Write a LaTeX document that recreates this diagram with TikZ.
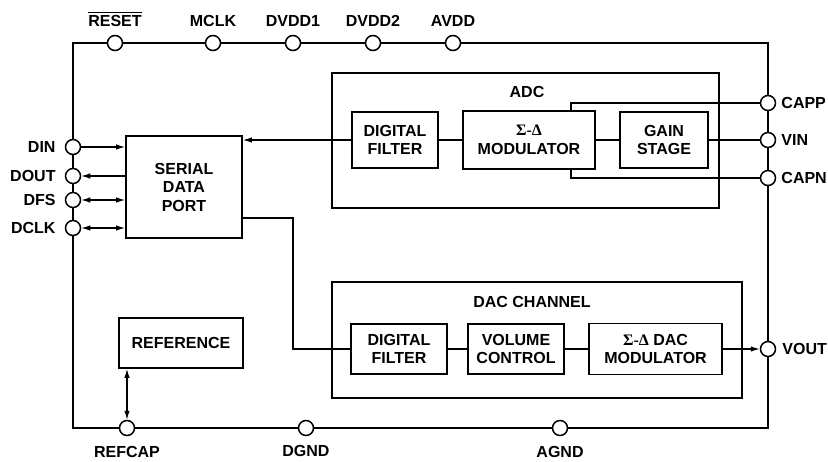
\documentclass[tikz,border=0pt]{standalone}
\usepackage{fontspec}
\setmainfont{Liberation Sans}
\newfontfamily\grkfont{Liberation Serif}
\usetikzlibrary{arrows.meta, positioning, calc}
\newcommand{\barlbl}[1]{\setbox0=\hbox{#1}\rlap{\raisebox{\dimexpr\ht0+1.8pt\relax}{\rule{\wd0}{1.1pt}}}\box0}

\begin{document}
\begin{tikzpicture}[
    x=1pt, y=-1pt,
    font=\fontsize{16}{18.5}\selectfont\bfseries,
    blk/.style={draw, line width=1.8pt, align=center, inner sep=0pt},
    grp/.style={draw, line width=1.2pt, inner sep=0pt},
    pin/.style={circle, draw, fill=white, line width=1.5pt,
                minimum size=15pt, inner sep=0pt},
    lbl/.style={inner sep=2pt},
    wire/.style={line width=1.2pt},
    ar/.style={wire, -{Latex[length=9pt,width=5.5pt]}},
    biar/.style={wire, {Latex[length=9pt,width=5.5pt]}-{Latex[length=9pt,width=5.5pt]}},
]
\useasboundingbox (0,0) rectangle (828,461);

% chip outline
\node[draw, line width=1.5pt, minimum width=695pt, minimum height=385pt,
      inner sep=0pt] (chip) at (420.5,235.5) {};

% ADC
\node[grp, minimum width=387pt, minimum height=135pt] (adc) at (525.5,140.5) {};
\node (adclbl) at (527,92) {ADC};
\node[blk, minimum width=86pt, minimum height=56pt] (adcfilt) at (395,140) {DIGITAL\\FILTER};
\node[blk, minimum width=132pt, minimum height=58pt] (adcmod) at (529,140) {{\grkfont Σ-Δ}\\MODULATOR};
\node[blk, minimum width=88pt, minimum height=56pt] (gain) at (664,140) {GAIN\\STAGE};

% DAC
\node[grp, minimum width=410pt, minimum height=116pt] (dac) at (537,340) {};
\node (daclbl) at (532,302) {DAC CHANNEL};
\node[blk, minimum width=96pt, minimum height=50pt] (dacfilt) at (399,349) {DIGITAL\\FILTER};
\node[blk, minimum width=96pt, minimum height=50pt] (vol) at (516,349) {VOLUME\\CONTROL};
\node[blk, minimum width=133pt, minimum height=51pt] (dacmod) at (655.5,349) {{\grkfont Σ-Δ} DAC\\MODULATOR};

\node[blk, minimum width=116pt, minimum height=102pt] (sdp) at (184,187) {SERIAL\\DATA\\PORT};
\node[blk, minimum width=124pt, minimum height=50pt] (ref) at (181,343) {REFERENCE};

% pins, top
\node[pin] (reset) at (115,43) {};
\node[pin] (mclk) at (213,43) {};
\node[pin] (dvdda) at (293,43) {};
\node[pin] (dvddb) at (373,43) {};
\node[pin] (avdd) at (453,43) {};
\node[lbl, above=6pt of reset] {\barlbl{RESET}};
\node[lbl, above=6pt of mclk] {MCLK};
\node[lbl, above=6pt of dvdda] {DVDD1};
\node[lbl, above=6pt of dvddb] {DVDD2};
\node[lbl, above=6pt of avdd] {AVDD};

% pins, left
\node[pin] (din) at (73,147) {};
\node[pin] (dout) at (73,176) {};
\node[pin] (dfs) at (73,200) {};
\node[pin] (dclk) at (73,228) {};
\node[lbl, left=7pt of din] {DIN};
\node[lbl, left=7pt of dout] {DOUT};
\node[lbl, left=7pt of dfs] {DFS};
\node[lbl, left=7pt of dclk] {DCLK};

% pins, right
\node[pin] (capp) at (768,103) {};
\node[pin] (vin) at (768,140) {};
\node[pin] (capn) at (768,178) {};
\node[pin] (vout) at (768,349) {};
\node[lbl, right=3pt of capp] {CAPP};
\node[lbl, right=3pt of vin] {VIN};
\node[lbl, right=3pt of capn] {CAPN};
\node[lbl, right=4pt of vout] {VOUT};

% pins, bottom
\node[pin] (refcap) at (127,428) {};
\node[pin] (dgnd) at (306,428) {};
\node[pin] (agnd) at (560,428) {};
\node[lbl, below=8pt of refcap] {REFCAP};
\node[lbl, below=7pt of dgnd] {DGND};
\node[lbl, below=8pt of agnd] {AGND};

% serial port
\draw[ar] (din) -- (din -| sdp.west);
\draw[ar] (dout -| sdp.west) -- (dout);
\draw[biar] (dfs) -- (dfs -| sdp.west);
\draw[biar] (dclk) -- (dclk -| sdp.west);

% ADC path
\draw[wire] (vin) -- (gain);
\draw[wire] (gain) -- (adcmod);
\draw[wire] (adcmod) -- (adcfilt);
\draw[ar] (adcfilt.west) -- (sdp.east |- adcfilt.west);
\draw[wire] ([xshift=-25pt]adcmod.north east) |- (capp);
\draw[wire] ([xshift=-25pt]adcmod.south east) |- (capn);

% DAC path
\draw[wire] ([yshift=-31pt]sdp.east) -- ++(50,0) |- (dacfilt.west);
\draw[wire] (dacfilt) -- (vol);
\draw[wire] (vol) -- (dacmod);
\draw[ar] (dacmod.east) -- (vout);

\draw[biar] (refcap) -- (ref.south -| refcap);
\end{tikzpicture}
\end{document}
